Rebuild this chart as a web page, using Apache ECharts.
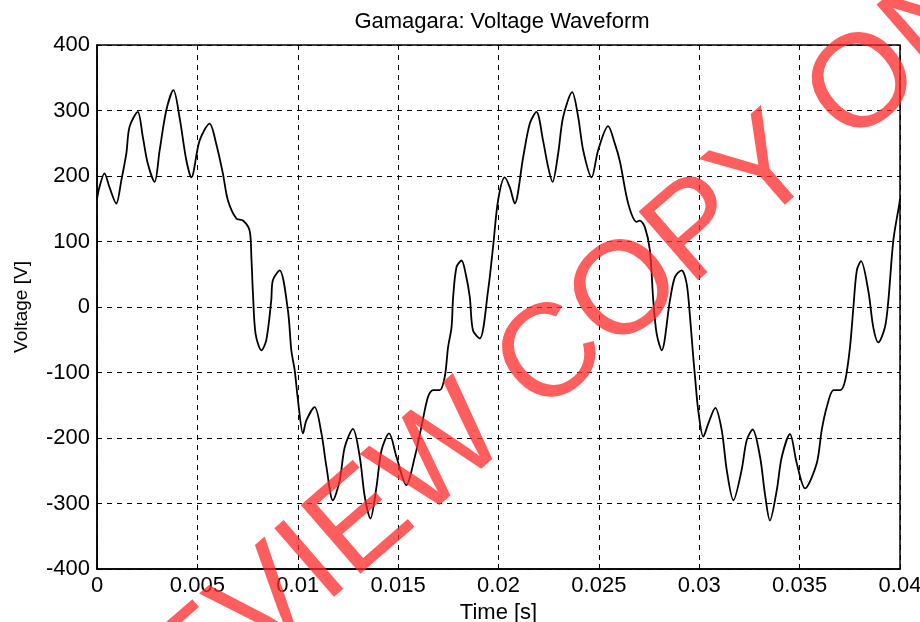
<!DOCTYPE html>
<html>
<head>
<meta charset="utf-8">
<script src="https://cdn.jsdelivr.net/npm/echarts@6/dist/echarts.min.js"></script>
<style>html,body{margin:0;padding:0;background:#fff;}#c{width:920px;height:622px;}</style>
</head>
<body>
<div id="c"></div>
<script>
var chartTitle = 'Gamagara: Voltage Waveform';
var xName = 'Time [s]';
var yName = 'Voltage [V]';
var xTicks = [0, 0.005, 0.01, 0.015, 0.02, 0.025, 0.03, 0.035, 0.04];
var yTicks = [-400, -300, -200, -100, 0, 100, 200, 300, 400];
var watermarkText = 'PREVIEW COPY ONLY';

var timeS = [
0.00000,0.00012,0.00037,0.00062,0.00096,0.00121,0.00146,0.00162,0.00203,0.00228,
0.00253,0.00287,0.00312,0.00345,0.00381,0.00411,0.00445,0.00470,0.00511,0.00561,
0.00594,0.00627,0.00652,0.00694,0.00727,0.00760,0.00769,0.00777,0.00790,0.00819,
0.00843,0.00868,0.00876,0.00910,0.00951,0.00968,0.00985,0.01001,0.01026,0.01043,
0.01084,0.01118,0.01143,0.01175,0.01209,0.01234,0.01275,0.01309,0.01334,0.01362,
0.01392,0.01417,0.01455,0.01492,0.01541,0.01583,0.01616,0.01649,0.01674,0.01707,
0.01732,0.01749,0.01766,0.01774,0.01791,0.01816,0.01837,0.01857,0.01873,0.01907,
0.01948,0.01973,0.01998,0.02031,0.02056,0.02081,0.02123,0.02156,0.02189,0.02222,
0.02247,0.02269,0.02297,0.02322,0.02367,0.02397,0.02422,0.02464,0.02496,0.02546,
0.02580,0.02605,0.02646,0.02688,0.02704,0.02729,0.02754,0.02771,0.02788,0.02813,
0.02854,0.02879,0.02912,0.02937,0.02954,0.02970,0.02979,0.02995,0.03020,0.03045,
0.03080,0.03112,0.03137,0.03170,0.03211,0.03236,0.03266,0.03303,0.03327,0.03352,
0.03386,0.03411,0.03452,0.03486,0.03527,0.03585,0.03610,0.03635,0.03669,0.03702,
0.03727,0.03751,0.03768,0.03785,0.03806,0.03842,0.03867,0.03892,0.03925,0.03942,
0.03967,0.03997,0.04000
];
var voltage = [
165,183,204,183,158,193,234,275,298,260,
219,191,239,300,331,290,224,198,254,280,
249,204,163,135,132,117,76,20,-41,-66,
-51,10,41,56,-5,-66,-97,-142,-193,-173,
-153,-193,-244,-295,-265,-214,-186,-229,-290,-323,
-275,-219,-193,-229,-272,-229,-183,-137,-127,-127,
-107,-61,-31,15,61,71,50,15,-36,-48,
25,92,163,198,183,158,229,280,298,254,
214,191,234,290,328,290,239,198,239,276,
249,222,158,130,132,122,87,10,-41,-66,
10,46,56,36,-15,-76,-107,-158,-198,-178,
-154,-188,-249,-295,-249,-204,-187,-229,-285,-326,
-280,-229,-194,-239,-277,-239,-188,-153,-127,-127,
-112,-61,0,56,70,25,-31,-54,-31,10,
102,158,165
];

var seriesData = timeS.map(function (t, i) { return [t, voltage[i]]; });
var font = 'Liberation Sans, Arial, sans-serif';

var chart = echarts.init(document.getElementById('c'), null, {renderer: 'canvas'});
chart.setOption({
  animation: false,
  backgroundColor: '#fff',
  title: {
    text: chartTitle, left: 497, top: 6, textAlign: 'center',
    textStyle: {fontFamily: font, fontSize: 22, fontWeight: 'normal', color: '#000'}
  },
  grid: {left: 97, right: 20, top: 45, bottom: 53, show: true, borderColor: '#000', borderWidth: 1.5,
    outerBoundsMode: 'none', containLabel: false},
  xAxis: {
    type: 'value', min: xTicks[0], max: xTicks[xTicks.length - 1], interval: 0.005,
    name: xName, nameLocation: 'middle', nameGap: 28,
    nameTextStyle: {fontFamily: font, fontSize: 22, color: '#000'},
    axisLine: {show: true, onZero: false, lineStyle: {color: '#000', width: 1.5}},
    axisTick: {show: true, inside: true, length: 5, lineStyle: {color: '#000'}},
    axisLabel: {fontFamily: font, fontSize: 22, color: '#000', margin: 6,
      formatter: function (v) { return String(+v.toFixed(3)); }},
    splitLine: {show: true, lineStyle: {color: '#000', type: [5, 5], width: 1}}
  },
  yAxis: {
    type: 'value', min: yTicks[0], max: yTicks[yTicks.length - 1], interval: 100,
    name: yName, nameLocation: 'middle', nameGap: 66, nameRotate: 90,
    nameTextStyle: {fontFamily: font, fontSize: 19, color: '#000'},
    axisLine: {show: true, onZero: false, lineStyle: {color: '#000', width: 1.5}},
    axisTick: {show: true, inside: true, length: 5, lineStyle: {color: '#000'}},
    axisLabel: {fontFamily: font, fontSize: 22, color: '#000', margin: 7},
    splitLine: {show: true, lineStyle: {color: '#000', type: [5, 5], width: 1}}
  },
  series: [{
    type: 'line', data: seriesData, showSymbol: false, smooth: 0.3,
    lineStyle: {color: '#000', width: 1.8}, z: 3
  }],
  graphic: [{
    type: 'text', x: 560, y: 352, rotation: 41 * Math.PI / 180, z: 100,
    style: {
      text: watermarkText, fontFamily: font, fontSize: 132, fontWeight: 'normal',
      fill: 'rgba(255,40,40,0.75)', textAlign: 'center', textVerticalAlign: 'middle'
    }
  }]
});
</script>
</body>
</html>
